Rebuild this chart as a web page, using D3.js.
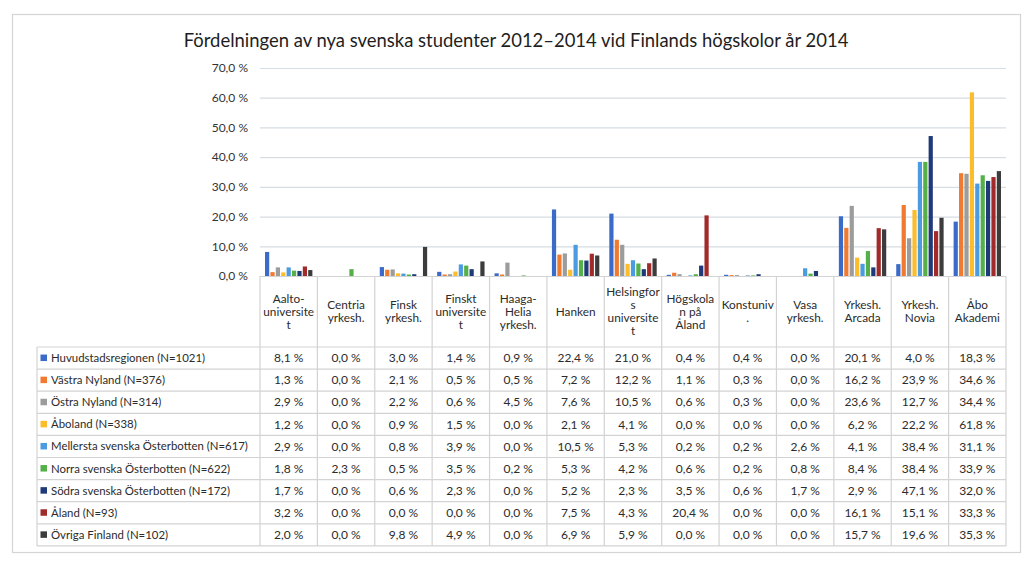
<!DOCTYPE html>
<html><head><meta charset="utf-8">
<script src="https://cdn.jsdelivr.net/npm/d3@7"></script>
<style>
html,body{margin:0;padding:0;background:#fff;}
svg{display:block;font-family:Lato,"Open Sans",sans-serif;}
</style></head>
<body>
<svg id="c" width="1024" height="563"></svg>
<script>
const title = "Fördelningen av nya svenska studenter 2012–2014 vid Finlands högskolor år 2014";
const categories = ["Aalto-universitet","Centria yrkesh.","Finsk yrkesh.","Finskt universitet","Haaga-Helia yrkesh.","Hanken","Helsingfors universitet","Högskolan på Åland","Konstuniv.","Vasa yrkesh.","Yrkesh. Arcada","Yrkesh. Novia","Åbo Akademi"];
const categoryLines = [["Aalto-","universite","t"],["Centria","yrkesh."],["Finsk","yrkesh."],["Finskt","universite","t"],["Haaga-","Helia","yrkesh."],["Hanken"],["Helsingfor","s","universite","t"],["Högskola","n på","Åland"],["Konstuniv","."],["Vasa","yrkesh."],["Yrkesh.","Arcada"],["Yrkesh.","Novia"],["Åbo","Akademi"]];
const seriesNames = ["Huvudstadsregionen (N=1021)","Västra Nyland (N=376)","Östra Nyland (N=314)","Åboland (N=338)","Mellersta svenska Österbotten (N=617)","Norra svenska Österbotten (N=622)","Södra svenska Österbotten (N=172)","Åland (N=93)","Övriga Finland (N=102)"];
const huvudstad = [8.1,0.0,3.0,1.4,0.9,22.4,21.0,0.4,0.4,0.0,20.1,4.0,18.3];
const vastraNyland = [1.3,0.0,2.1,0.5,0.5,7.2,12.2,1.1,0.3,0.0,16.2,23.9,34.6];
const ostraNyland = [2.9,0.0,2.2,0.6,4.5,7.6,10.5,0.6,0.3,0.0,23.6,12.7,34.4];
const aboland = [1.2,0.0,0.9,1.5,0.0,2.1,4.1,0.0,0.0,0.0,6.2,22.2,61.8];
const mellersta = [2.9,0.0,0.8,3.9,0.0,10.5,5.3,0.2,0.2,2.6,4.1,38.4,31.1];
const norra = [1.8,2.3,0.5,3.5,0.2,5.3,4.2,0.6,0.2,0.8,8.4,38.4,33.9];
const sodra = [1.7,0.0,0.6,2.3,0.0,5.2,2.3,3.5,0.6,1.7,2.9,47.1,32.0];
const aland = [3.2,0.0,0.0,0.0,0.0,7.5,4.3,20.4,0.0,0.0,16.1,15.1,33.3];
const ovriga = [2.0,0.0,9.8,4.9,0.0,6.9,5.9,0.0,0.0,0.0,15.7,19.6,35.3];
const seriesValues = [huvudstad,vastraNyland,ostraNyland,aboland,mellersta,norra,sodra,aland,ovriga];
const yTicks = [0,10,20,30,40,50,60,70];
const colors = ["#3a6bc8","#f07a30","#9c9c9c","#fcbd2c","#4b9be0","#55b04a","#1f3a78","#a12a2a","#3c3c3c"];

const fmt = v => d3.format(".1f")(v).replace(".", ",") + " %";
const svg = d3.select("#c");

// outer frame
svg.append("rect").attr("x",12.5).attr("y",14.5).attr("width",1008).attr("height",538)
  .attr("fill","#fff").attr("stroke","#d4d4d4").attr("stroke-width",1.2);

// title
const t = svg.append("text").attr("x",516).attr("y",47).attr("text-anchor","middle")
  .attr("fill","#1e1e1e").attr("font-size",19).text(title);
const tw = t.node().getComputedTextLength();
t.attr("font-size", 19*665/tw);

const plotL = 260, plotR = 1006, y0 = 276, yTop = 68;
const x = d3.scaleBand().domain(categories).range([plotL, plotR]).padding(0);
const bw = x.bandwidth();
const x1 = d3.scaleBand().domain(seriesNames).range([5, bw-5]).paddingInner(0.22);
const y = d3.scaleLinear().domain([0,70]).range([y0, yTop]);

// gridlines
svg.append("g").selectAll("line").data(yTicks.filter(d=>d>0)).join("line")
  .attr("x1",plotL).attr("x2",plotR).attr("y1",d=>y(d)+0.5).attr("y2",d=>y(d)+0.5)
  .attr("stroke","#d6dde3").attr("stroke-width",1.2);

// y axis labels
const yAxis = d3.axisLeft(y).tickValues(yTicks).tickFormat(d=>fmt(d)).tickSize(0).tickPadding(12);
const ga = svg.append("g").attr("transform",`translate(${plotL},0)`).call(yAxis);
ga.select(".domain").remove();
ga.selectAll("text").attr("font-size",12).attr("fill","#333").attr("font-family","Lato,'Open Sans',sans-serif");

// bars
const groups = svg.append("g").selectAll("g").data(seriesNames).join("g").attr("fill",(d,i)=>colors[i]);
groups.selectAll("rect").data((s,i)=>seriesValues[i].map((v,j)=>({s, v, c:categories[j]}))).join("rect")
  .attr("x",d=>x(d.c)+x1(d.s)).attr("width",x1.bandwidth())
  .attr("y",d=>y(d.v)).attr("height",d=>y0-y(d.v));

// table
const headerBottom = 347, rowH = 22.1, tableL = 37;
const nRows = seriesNames.length;
const tableBottom = headerBottom + nRows*rowH;
const lineCol = "#d3d3d3";
const tg = svg.append("g");
tg.append("line").attr("x1",plotL).attr("x2",plotR).attr("y1",y0+0.5).attr("y2",y0+0.5).attr("stroke",lineCol).attr("stroke-width",1.2);
d3.range(nRows+1).forEach(i=>{
  const yy = headerBottom + i*rowH;
  tg.append("line").attr("x1",tableL).attr("x2",plotR).attr("y1",yy).attr("y2",yy).attr("stroke",lineCol).attr("stroke-width",1.2);
});
tg.append("line").attr("x1",tableL).attr("x2",tableL).attr("y1",headerBottom).attr("y2",tableBottom).attr("stroke",lineCol).attr("stroke-width",1.2);
categories.forEach(c=>{
  tg.append("line").attr("x1",x(c)).attr("x2",x(c)).attr("y1",y0).attr("y2",tableBottom).attr("stroke",lineCol).attr("stroke-width",1.2);
});
tg.append("line").attr("x1",plotR).attr("x2",plotR).attr("y1",y0).attr("y2",tableBottom).attr("stroke",lineCol).attr("stroke-width",1.2);

// category headers
const lh = 13;
categories.forEach((c,i)=>{
  const lines = categoryLines[i];
  const cy = (y0+headerBottom)/2 - (lines.length-1)*lh/2;
  const txt = tg.append("text").attr("text-anchor","middle").attr("font-size",11.8).attr("fill","#2b2b2b");
  lines.forEach((l,k)=>{
    txt.append("tspan").attr("x",x(c)+bw/2).attr("y",cy+k*lh).attr("dy","0.35em").text(l);
  });
});

// rows
seriesNames.forEach((s,i)=>{
  const cy = headerBottom + i*rowH + rowH/2;
  tg.append("rect").attr("x",40.5).attr("y",cy-3.5).attr("width",6.5).attr("height",6.5).attr("fill",colors[i]);
  tg.append("text").attr("x",51).attr("y",cy).attr("dy","0.35em").attr("font-size",11.4).attr("fill","#2b2b2b").text(s);
  seriesValues[i].forEach((v,j)=>{
    tg.append("text").attr("x",x(categories[j])+bw/2).attr("y",cy).attr("dy","0.35em")
      .attr("text-anchor","middle").attr("font-size",12).attr("fill","#2b2b2b").text(fmt(v));
  });
});
</script>
</body></html>
